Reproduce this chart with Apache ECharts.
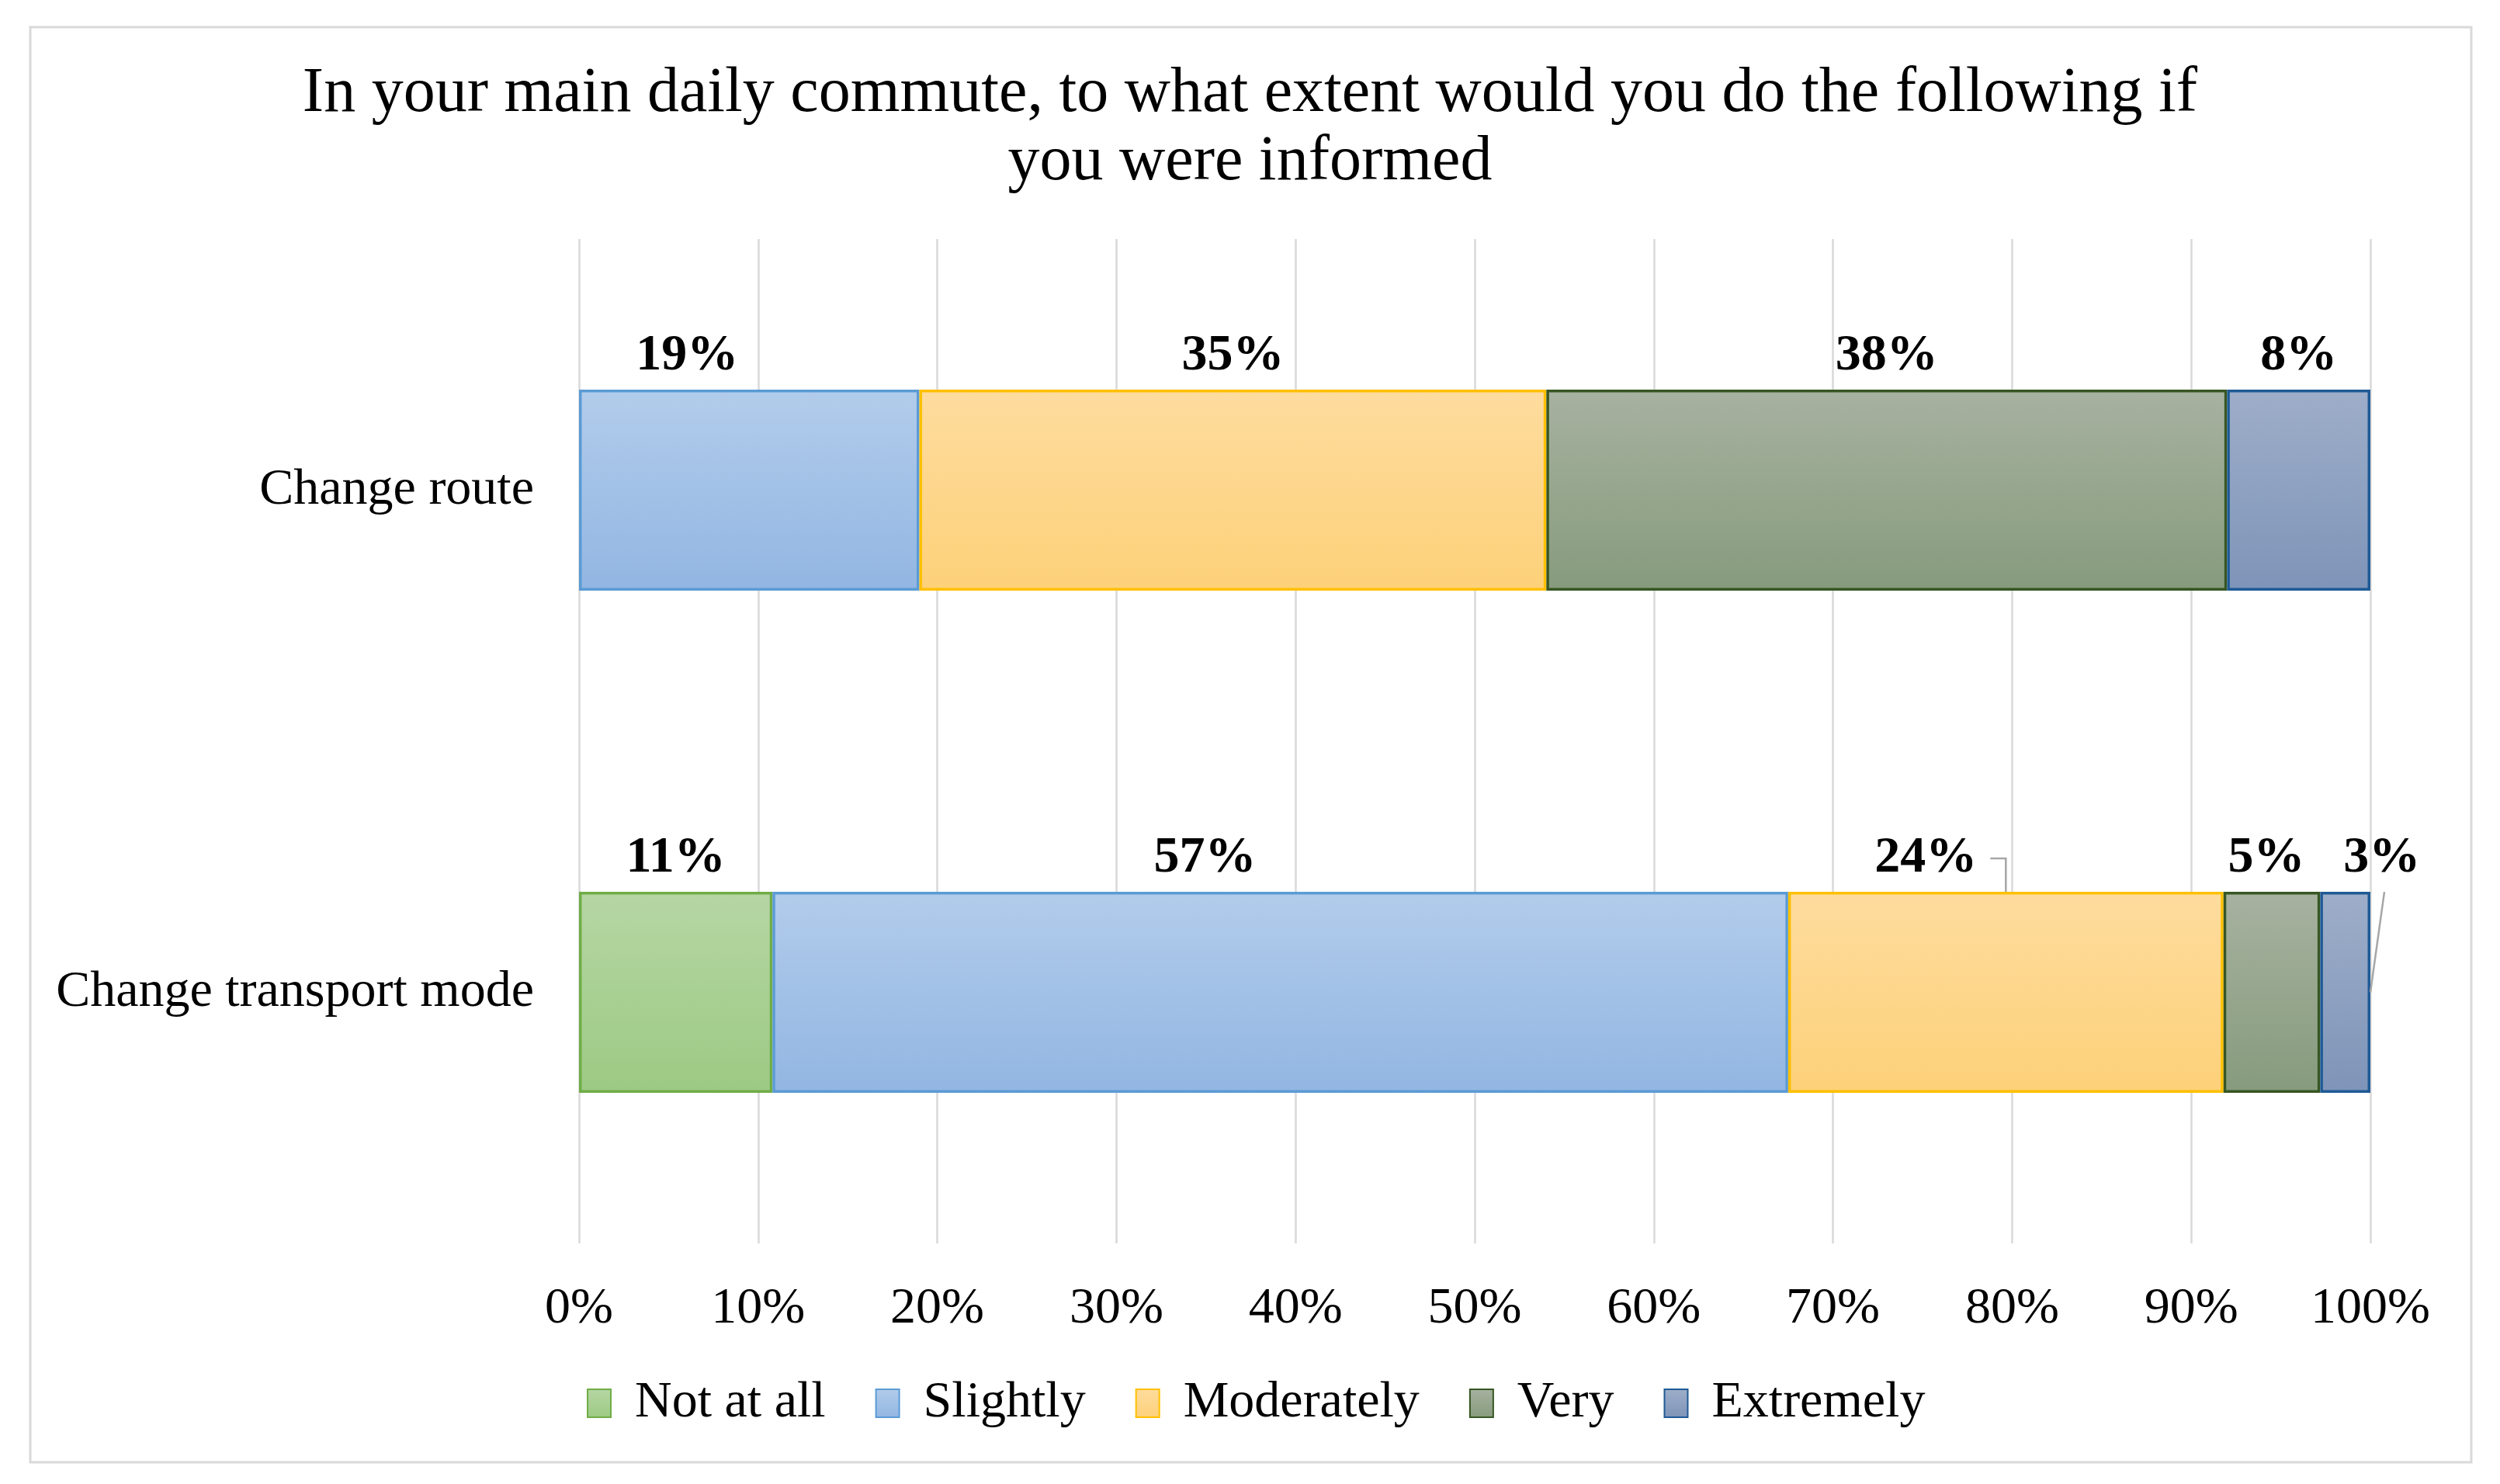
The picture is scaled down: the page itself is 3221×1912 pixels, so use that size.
<!DOCTYPE html>
<html>
<head>
<meta charset="utf-8">
<script src="https://cdn.jsdelivr.net/npm/echarts@6/dist/echarts.min.js"></script>
<style>
html,body{margin:0;padding:0;background:#fff;}
#chart{width:3221px;height:1912px;}
</style>
</head>
<body>
<div id="chart"></div>
<script>
// ---- data ----
const titleText = 'In your main daily commute, to what extent would you do the following if\nyou were informed';
const categories = ['Change route', 'Change transport mode'];
const seriesNames = ['Not at all', 'Slightly', 'Moderately', 'Very', 'Extremely'];
const notAtAll   = [0, 10.8];
const slightly   = [19, 56.7];
const moderately = [35, 24.3];
const very       = [38, 5.4];
const extremely  = [8, 2.8];
const xTicks = [0, 10, 20, 30, 40, 50, 60, 70, 80, 90, 100];

// ---- styles ----
const FONT = 'Liberation Serif';
const styles = [
  {top: '#b6d6a4', bottom: '#9cca83', border: '#70ad47'},
  {top: '#b2cceb', bottom: '#92b6e2', border: '#5b9bd5'},
  {top: '#fedc9e', bottom: '#fdd179', border: '#ffc000'},
  {top: '#a7b2a0', bottom: '#869b7d', border: '#375623'},
  {top: '#9eaec9', bottom: '#7e94b8', border: '#1f5a96'}
];
// horizontal label nudges (pixels) keyed by "seriesIndex|dataIndex"
const labelNudge = {'1|0': -80, '1|1': -97, '2|1': -103, '3|1': -7, '4|1': 47};
const LABEL_DIST = 10;
const LABEL_SIZE = 66;

const seriesData = [notAtAll, slightly, moderately, very, extremely];

const chart = echarts.init(document.getElementById('chart'));

const series = seriesNames.map((name, i) => ({
  name: name,
  type: 'bar',
  stack: 'total',
  barWidth: '40%',
  data: seriesData[i].map(v => (v === 0 ? '-' : v)),
  itemStyle: {
    color: new echarts.graphic.LinearGradient(0, 0, 0, 1, [
      {offset: 0, color: styles[i].top},
      {offset: 1, color: styles[i].bottom}
    ]),
    borderColor: styles[i].border,
    borderWidth: 3.5
  },
  label: {
    show: true,
    position: 'top',
    distance: LABEL_DIST,
    fontFamily: FONT,
    fontSize: LABEL_SIZE,
    fontWeight: 'bold',
    color: '#000',
    formatter: p => Math.round(p.value) + '%'
  },
  labelLayout: function (params) {
    const k = params.seriesIndex + '|' + params.dataIndex;
    return {dx: labelNudge[k] || 0};
  },
  emphasis: {disabled: true}
}));

const option = {
  backgroundColor: '#fff',
  animation: false,
  title: {
    text: titleText,
    left: 'center',
    top: 72,
    textStyle: {
      fontFamily: FONT,
      fontSize: 82,
      fontWeight: 'normal',
      color: '#000',
      lineHeight: 88
    }
  },
  grid: {left: 746, right: 167, top: 308, bottom: 310},
  xAxis: {
    type: 'value',
    min: 0,
    max: 100,
    interval: 10,
    axisLine: {show: false},
    axisTick: {show: false},
    splitLine: {show: true, lineStyle: {color: '#d9d9d9', width: 2.5}},
    axisLabel: {
      margin: 52,
      fontFamily: FONT,
      fontSize: 66,
      color: '#000',
      formatter: v => (xTicks.indexOf(v) >= 0 ? v + '%' : '')
    }
  },
  yAxis: {
    type: 'category',
    inverse: true,
    data: categories,
    axisLine: {show: false},
    axisTick: {show: false},
    axisLabel: {
      margin: 58,
      fontFamily: FONT,
      fontSize: 66,
      color: '#000'
    }
  },
  legend: {
    data: seriesNames,
    left: 751,
    top: 1770,
    itemWidth: 30,
    itemHeight: 36,
    itemGap: 64,
    icon: 'rect',
    selectedMode: false,
    textStyle: {
      fontFamily: FONT,
      fontSize: 66,
      color: '#000',
      padding: [0, 0, 0, 26]
    }
  },
  series: series,
  graphic: [{
    type: 'rect',
    shape: {x: 39, y: 35, width: 3145, height: 1849},
    style: {fill: 'none', stroke: '#d9d9d9', lineWidth: 3},
    z: -10
  }]
};

chart.setOption(option);

// leader lines for nudged labels, positioned through the chart's own scales
(function () {
  const yAxisModel = chart.getModel().getComponent('yAxis', 0);
  const band = yAxisModel.axis.getBandWidth();
  const barW = band * 0.4;
  const g = [];
  // Moderately, Change transport mode
  (function () {
    const ci = 1;
    let start = 0;
    for (let s = 0; s < 2; s++) start += seriesData[s][ci];
    const v = seriesData[2][ci];
    const cx = chart.convertToPixel({xAxisIndex: 0}, start + v / 2);
    const cy = chart.convertToPixel({yAxisIndex: 0}, ci);
    const barTop = cy - barW / 2;
    const ly = barTop - LABEL_DIST - LABEL_SIZE / 2;
    g.push({
      type: 'polyline',
      shape: {points: [[cx - 20, ly], [cx, ly], [cx, barTop]]},
      style: {stroke: '#a6a6a6', lineWidth: 2.5, fill: 'none'},
      z: 10
    });
  })();
  // Extremely, Change transport mode
  (function () {
    const ci = 1;
    const right = chart.convertToPixel({xAxisIndex: 0}, 100);
    const cy = chart.convertToPixel({yAxisIndex: 0}, ci);
    const barTop = cy - barW / 2;
    g.push({
      type: 'polyline',
      shape: {points: [[right + 18, barTop], [right, cy]]},
      style: {stroke: '#a6a6a6', lineWidth: 2.5, fill: 'none'},
      z: 10
    });
  })();
  chart.setOption({graphic: option.graphic.concat(g)});
})();
</script>
</body>
</html>
